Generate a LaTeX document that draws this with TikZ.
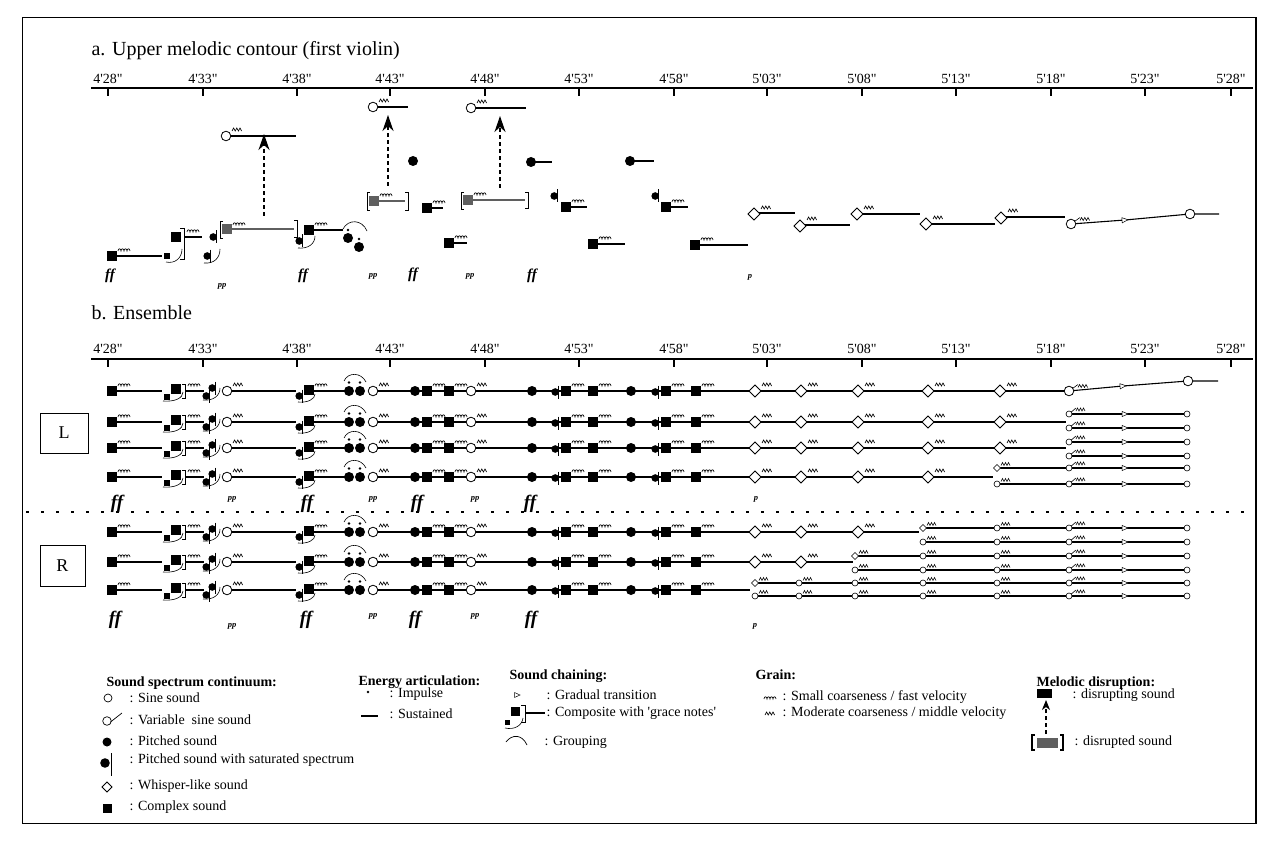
\documentclass[tikz,border=0pt]{standalone}
\usepackage{fontspec}
\setmainfont{Liberation Serif}
\usetikzlibrary{arrows.meta}
\newcommand\tq{\textquotesingle}
\newcommand\tqq{\textquotedbl}
\definecolor{dgray}{RGB}{95,95,95}
\tikzset{
  ln/.style={line width=1.1pt},
  thinl/.style={line width=0.6pt},
  brk/.style={line width=0.8pt},
  disr/.style={dash pattern=on 4pt off 3pt, line width=1.3pt, -{Stealth[length=16pt,width=11pt,inset=5pt]}},
  axl/.style={font=\fontsize{14}{14}\selectfont},
  ttl/.style={font=\fontsize{20}{20}\selectfont, anchor=west},
  dyn/.style={font=\fontsize{15}{15}\selectfont\bfseries\itshape},
  dynb/.style={font=\fontsize{19}{19}\selectfont\bfseries\itshape},
  dynp/.style={font=\fontsize{8.5}{8.5}\selectfont\bfseries\itshape},
  lgh/.style={font=\fontsize{14}{14}\selectfont\bfseries, anchor=west},
  lgt/.style={font=\fontsize{14}{14}\selectfont, anchor=west},
  pics/sq/.style={code={\fill (-4.7,-4.7) rectangle (4.7,4.7);}},
  pics/sqg/.style={code={\fill[dgray] (-5,-5) rectangle (5,5);}},
  pics/ssq/.style={code={\fill (-2.6,-2.6) rectangle (2.6,2.6);}},
  pics/pc/.style={code={\fill (0,0) circle[radius=5];}},
  pics/sc/.style={code={\draw[line width=0.8pt,fill=white] (0,0) circle[radius=4.8];}},
  pics/ssc/.style={code={\draw[line width=0.6pt,fill=white] (0,0) circle[radius=3];}},
  pics/dm/.style={code={\draw[line width=0.9pt,fill=white] (-6,0)--(0,-6)--(6,0)--(0,6)--cycle;}},
  pics/sat/.style={code={\fill (-1.8,0) circle[radius=3.8]; \draw[line width=1pt] (1.8,-6.5)--(1.8,6.5);}},
  pics/gs/.style={code={\draw[line width=0.65pt] (0,0) ..controls (0,-3) and (3,-3).. (3,0) ..controls (3,-3) and (6,-3).. (6,0) ..controls (6,-3) and (9,-3).. (9,0) ..controls (9,-3) and (12,-3).. (12,0);}},
  pics/gm/.style={code={\draw[line width=0.65pt] (0,0)--(1.6,-3)--(3.2,0)--(4.8,-3)--(6.4,0)--(8,-3)--(9.6,0);}},
  pics/tri/.style={code={\draw[line width=0.5pt,fill=white] (-3,-2.6)--(3,0)--(-3,2.6)--cycle;}},
  pics/vgm/.style={code={\draw[line width=0.6pt] (3.5,-2.5)--(9,-6.5); \draw[line width=0.6pt] (9,-3.5)--(10.6,-6.5)--(12.2,-3.5)--(13.8,-6.5)--(15.4,-3.5)--(17,-6.5)--(18.6,-3.5);}},
  pics/svgm/.style={code={\draw[line width=0.6pt] (2.3,-2)--(7,-6); \draw[line width=0.6pt] (7,-3)--(8.5,-6)--(10,-3)--(11.5,-6)--(13,-3)--(14.5,-6)--(16,-3);}},
  pics/sg/.style={code={\draw[line width=0.6pt,fill=white] (0,0) circle[radius=3]; \draw[line width=0.6pt] (4,-2.5)--(5.5,-5.5)--(7,-2.5)--(8.5,-5.5)--(10,-2.5)--(11.5,-5.5)--(13,-2.5);}},
  pics/dg/.style={code={\draw[line width=0.6pt,fill=white] (-3.5,0)--(0,-3.5)--(3.5,0)--(0,3.5)--cycle; \draw[line width=0.6pt] (4,-2.5)--(5.5,-5.5)--(7,-2.5)--(8.5,-5.5)--(10,-2.5)--(11.5,-5.5)--(13,-2.5);}},
}
\newcommand\EnsHead[1]{%
 \draw[ln] (112,0)--(162,0);
 \draw[ln] (185.5,0)--(204,0);
 \draw[ln] (227,0)--(296,0);
 \draw[ln] (309,0)--(349,0);
 \draw[ln] (373,0)--(#1,0);
 \pic at (112,0){sq}; \pic at (118,-5){gs};
 \pic at (167,6){ssq}; \pic at (176,-2){sq};
 \draw[brk] (182,-7)--(185.5,-7)--(185.5,7)--(182,7);
 \pic at (188,-5){gs};
 \draw[thinl] (163,10) .. controls (175,11) and (183,7) .. (183,1);
 \pic at (208,5){sat}; \pic at (214,-3){sat};
 \draw[thinl] (203,9) .. controls (213,10) and (220,5) .. (220,-3);
 \pic at (227,0){sc}; \pic at (233,-5){gm};
 \pic at (301,5){sat};
 \pic at (309,-1){sq}; \pic at (315,-5){gs};
 \draw[thinl] (298,11) .. controls (308,12) and (315,8) .. (315,3);
 \pic at (349,0){pc}; \pic at (360,0){pc};
 \fill (349,-8.5) circle[radius=1.4]; \fill (360,-8.5) circle[radius=1.4];
 \draw[thinl] (344,-10) .. controls (348,-19) and (361,-19) .. (366,-9);
 \pic at (373,0){sc}; \pic at (379,-5){gm};
 \pic at (415,0){pc}; \pic at (427,0){sq}; \pic at (433,-5){gs};
 \pic at (449,0){sq}; \pic at (455,-5){gs};
 \pic at (471,0){sc}; \pic at (477,-5){gm};
 \pic at (532,0){pc}; \pic at (557,1){sat}; \pic at (566,0){sq}; \pic at (572,-5){gs};
 \pic at (593,0){sq}; \pic at (599,-5){gs};
 \pic at (631,0){pc}; \pic at (657,1){sat}; \pic at (666,0){sq}; \pic at (672,-5){gs};
 \pic at (696,0){sq}; \pic at (702,-5){gs};
}
\newcommand\Dia[1]{\pic at (#1,0){dm}; \pic at (#1+7,-5){gm};}
\newcommand\SubTail[1]{\draw[ln] (1069,#1)--(1187,#1); \pic at (1069,#1){ssc}; \pic at (1069,#1){svgm}; \pic at (1125,#1){tri}; \pic at (1187,#1){ssc};}
\begin{document}
\begin{tikzpicture}[x=1pt,y=-1pt]
\useasboundingbox (0,0) rectangle (1269,845);
\draw[line width=1pt] (22,18) rectangle (1256,823);
\draw[line width=1.6pt] (1256,18)--(1256,823);
% ---------- section a ----------
\node[ttl] (ta) at (88,51) {a. Upper melodic contour (first violin)};
\draw[line width=1.3pt] (91,88)--(1253,88);
\foreach \x/\lab [count=\i] in {108/4\tq28\tqq,203/4\tq33\tqq,297/4\tq38\tqq,390/4\tq43\tqq,485/4\tq48\tqq,579/4\tq53\tqq,674/4\tq58\tqq,767/5\tq03\tqq,862/5\tq08\tqq,956/5\tq13\tqq,1051/5\tq18\tqq,1145/5\tq23\tqq,1231/5\tq28\tqq}{
  \draw[line width=1.2pt] (\x,88)--(\x,96);
  \node[axl] (ax\i) at (\x,79) {\lab};
}
\draw[ln] (112,256)--(162,256); \pic at (112,256){sq}; \pic at (118,251){gs};
\pic at (167,256){ssq}; \pic at (176,237){sq};
\draw[brk] (180,228)--(184,228)--(184,259)--(180,259);
\draw[ln] (184,237)--(202,237); \pic at (187,232){gs};
\draw[thinl] (166,262) .. controls (175,264) and (182,258) .. (182,249);
\pic at (215,237){sat}; \pic at (209,256){sat};
\draw[thinl] (204,263) .. controls (214,264) and (220,258) .. (220,249);
\draw[brk] (223,221)--(220,221)--(220,238)--(223,238);
\draw[line width=1.2pt,dgray] (227,229)--(294,229);
\pic at (227,229){sqg}; \pic at (233,225){gs};
\draw[brk] (294,220)--(297,220)--(297,237)--(294,237);
\coordinate (d1a) at (264,216); \coordinate (d1b) at (264,134);
\draw[disr] (d1a)--(d1b);
\draw[ln] (226,136)--(296,136); \pic at (226,136){sc}; \pic at (232,131){gm};
\pic at (301,241){sat};
\draw[ln] (309,230)--(343,230); \pic at (309,230){sq}; \pic at (315,225){gs};
\draw[thinl] (298,248) .. controls (308,249) and (315,244) .. (315,236);
\pic at (348,238){pc}; \pic at (359,247){pc};
\fill (348,230) circle[radius=1.3]; \fill (359,239) circle[radius=1.3];
\draw[thinl] (343,229) .. controls (348,219) and (362,219) .. (367,231);
\draw[ln] (373,107)--(408,107); \pic at (373,107){sc}; \pic at (379,102){gm};
\coordinate (d2a) at (388,186); \coordinate (d2b) at (388,115);
\draw[disr] (d2a)--(d2b);
\draw[brk] (370,192)--(367,192)--(367,210)--(370,210);
\draw[line width=1.2pt,dgray] (374,201)--(405,201);
\pic at (374,201){sqg}; \pic at (380,196){gs};
\draw[brk] (405,192)--(408,192)--(408,210)--(405,210);
\pic at (413,161){pc};
\draw[ln] (427,208)--(443,208); \pic at (427,208){sq}; \pic at (433,203){gs};
\draw[ln] (449,243)--(467,243); \pic at (449,243){sq}; \pic at (455,238){gs};
\draw[ln] (471,108)--(526,108); \pic at (471,108){sc}; \pic at (477,103){gm};
\coordinate (d3a) at (500,188); \coordinate (d3b) at (500,116);
\draw[disr] (d3a)--(d3b);
\draw[brk] (464,192)--(461,192)--(461,209)--(464,209);
\draw[line width=1.2pt,dgray] (468,200)--(525,200);
\pic at (468,200){sqg}; \pic at (474,195){gs};
\draw[brk] (525,192)--(528,192)--(528,208)--(525,208);
\draw[ln] (531,162)--(552,162); \pic at (531,162){pc};
\pic at (556,196){sat};
\draw[ln] (566,207)--(587,207); \pic at (566,207){sq}; \pic at (572,202){gs};
\draw[ln] (593,244)--(625,244); \pic at (593,244){sq}; \pic at (599,239){gs};
\draw[ln] (630,161)--(654,161); \pic at (630,161){pc};
\pic at (657,196){sat};
\draw[ln] (666,207)--(688,207); \pic at (666,207){sq}; \pic at (672,202){gs};
\draw[ln] (695,245)--(748,245); \pic at (695,245){sq}; \pic at (701,240){gs};
\draw[ln] (754,213)--(795,213); \pic at (754,214){dm}; \pic at (761,209){gm};
\draw[ln] (800,225)--(850,225); \pic at (800,226){dm}; \pic at (807,220){gm};
\draw[ln] (857,214)--(920,214); \pic at (857,214){dm}; \pic at (864,209){gm};
\draw[ln] (926,224)--(995,224); \pic at (926,224){dm}; \pic at (933,219){gm};
\draw[ln] (1001,217)--(1065,217); \pic at (1001,218){dm}; \pic at (1008,212){gm};
\draw[ln] (1071,224)--(1125,220)--(1190,214)--(1219,214);
\pic at (1071,224){sc}; \pic at (1071,224){vgm};
\pic[rotate=5] at (1125,220){tri}; \pic at (1190,214){sc};
\node[dyn] (da1) at (110,276) {ff};
\node[dynp] (da2) at (222,286) {pp};
\node[dyn] (da3) at (303,276) {ff};
\node[dynp] (da4) at (373,276) {pp};
\node[dyn] (da5) at (413,275) {ff};
\node[dynp] (da6) at (470,276) {pp};
\node[dyn] (da7) at (532,276) {ff};
\node[dynp] (da8) at (750,277) {p};
% ---------- section b ----------
\node[ttl] (tb) at (88,313) {b. Ensemble};
\draw[line width=1.3pt] (91,359)--(1253,359);
\foreach \x/\lab [count=\i] in {108/4\tq28\tqq,203/4\tq33\tqq,297/4\tq38\tqq,390/4\tq43\tqq,485/4\tq48\tqq,579/4\tq53\tqq,674/4\tq58\tqq,767/5\tq03\tqq,862/5\tq08\tqq,956/5\tq13\tqq,1051/5\tq18\tqq,1145/5\tq23\tqq,1231/5\tq28\tqq}{
  \draw[line width=1.2pt] (\x,359)--(\x,367);
  \node[axl] (bx\i) at (\x,349) {\lab};
}
\draw[line width=0.9pt] (40,413) rectangle (88,453);
\node[font=\fontsize{18}{18}\selectfont] (L) at (64,433) {L};
\draw[line width=0.9pt] (40,545) rectangle (85,586);
\node[font=\fontsize{18}{18}\selectfont] (R) at (62.5,565.5) {R};
% L1
\begin{scope}[shift={(0,391)}]
 \EnsHead{1065}
 \Dia{755}\Dia{801}\Dia{858}\Dia{928}\Dia{1000}
 \draw[ln] (1069,0)--(1123,-5)--(1188,-10)--(1218,-10);
 \pic at (1069,0){sc}; \pic at (1069,0){vgm};
 \pic[rotate=5] at (1123,-5){tri}; \pic at (1188,-10){sc};
\end{scope}
% L2
\begin{scope}[shift={(0,422)}]
 \EnsHead{1066}
 \Dia{755}\Dia{801}\Dia{858}\Dia{928}\Dia{1000}
 \SubTail{-8}\SubTail{6}
\end{scope}
% L3
\begin{scope}[shift={(0,448)}]
 \EnsHead{1066}
 \Dia{755}\Dia{801}\Dia{858}\Dia{928}\Dia{1000}
 \SubTail{-6}\SubTail{8}
\end{scope}
% L4
\begin{scope}[shift={(0,477)}]
 \EnsHead{993}
 \Dia{755}\Dia{801}\Dia{858}\Dia{928}
 \draw[ln] (997,-9)--(1069,-9); \draw[ln] (997,7)--(1069,7);
 \pic at (997,-9){dg}; \pic at (997,7){sg};
 \SubTail{-9}\SubTail{7}
\end{scope}
\node[dynb] (dl1) at (117,504) {ff};
\node[dynp] (dl2) at (232,499) {pp};
\node[dynb] (dl3) at (307,504) {ff};
\node[dynp] (dl4) at (373,499) {pp};
\node[dynb] (dl5) at (417,504) {ff};
\node[dynp] (dl6) at (475,499) {pp};
\node[dynb] (dl7) at (530,504) {ff};
\node[dynp] (dl8) at (756,499) {p};
\draw[line width=1.3pt, dash pattern=on 2.5pt off 12.5pt] (26,512)--(1254,512);
% R1
\begin{scope}[shift={(0,532)}]
 \EnsHead{919}
 \Dia{755}\Dia{801}\Dia{858}
 \draw[ln] (923,-4)--(1069,-4); \draw[ln] (923,10)--(1069,10);
 \pic at (923,-4){dg}; \pic at (923,10){sg};
 \pic at (997,-4){sg}; \pic at (997,10){sg};
 \SubTail{-4}\SubTail{10}
\end{scope}
% R2
\begin{scope}[shift={(0,562)}]
 \EnsHead{853}
 \Dia{755}\Dia{801}
 \draw[ln] (855,-6)--(1069,-6); \draw[ln] (855,8)--(1069,8);
 \pic at (855,-6){dg}; \pic at (855,8){sg};
 \pic at (923,-6){sg}; \pic at (923,8){sg};
 \pic at (997,-6){sg}; \pic at (997,8){sg};
 \SubTail{-6}\SubTail{8}
\end{scope}
% R3
\begin{scope}[shift={(0,590)}]
 \EnsHead{750}
 \draw[ln] (755,-7)--(1069,-7); \draw[ln] (755,6)--(1069,6);
 \pic at (755,-7){dg}; \pic at (755,6){sg};
 \pic at (799,-7){sg}; \pic at (799,6){sg};
 \pic at (855,-7){sg}; \pic at (855,6){sg};
 \pic at (923,-7){sg}; \pic at (923,6){sg};
 \pic at (997,-7){sg}; \pic at (997,6){sg};
 \SubTail{-7}\SubTail{6}
\end{scope}
\node[dynb] (dr1) at (115,620) {ff};
\node[dynp] (dr2) at (232,626) {pp};
\node[dynb] (dr3) at (306,620) {ff};
\node[dynp] (dr4) at (373,616) {pp};
\node[dynb] (dr5) at (415,620) {ff};
\node[dynp] (dr6) at (475,616) {pp};
\node[dynb] (dr7) at (531,620) {ff};
\node[dynp] (dr8) at (755,626) {p};
% ---------- legend ----------
\node[lgh] (h1) at (103,683) {Sound spectrum continuum:};
\draw[line width=0.7pt] (108,698) circle[radius=4];
\node[lgt] (l1) at (126,698) {: Sine sound};
\draw[line width=0.7pt] (107,721) circle[radius=4.3];
\draw[line width=0.7pt] (110.5,722) -- (122,713);
\node[lgt] (l2) at (126,720) {: Variable\ \ sine sound};
\fill (107,742) circle[radius=4.5];
\node[lgt] (l3) at (126,741) {: Pitched sound};
\fill (105,763) circle[radius=4.8]; \draw[line width=1pt] (111,753)--(111,776);
\node[lgt] (l4) at (126,760) {: Pitched sound with saturated spectrum};
\draw[line width=0.8pt] (102,787)--(107,782)--(112,787)--(107,792)--cycle;
\node[lgt] (l5) at (126,786) {: Whisper-like sound};
\fill (102.5,803.5) rectangle (111.5,812.5);
\node[lgt] (l6) at (126,807) {: Complex sound};
\node[lgh] (h2) at (355,682) {Energy articulation:};
\fill (368,692) circle[radius=1.3];
\node[lgt] (l7) at (386,694) {: Impulse};
\draw[line width=1.1pt] (361,716)--(378,716);
\node[lgt] (l8) at (386,714) {: Sustained};
\node[lgh] (h3) at (506,676) {Sound chaining:};
\draw[line width=0.5pt,fill=white] (514.5,692.5)--(520,695)--(514.5,697.5)--cycle;
\node[lgt] (l9) at (543,695) {: Gradual transition};
\fill (510.5,706.5) rectangle (519.5,715.5); \fill (505,719.5) rectangle (510,724.5);
\draw[brk] (521,705)--(525,705)--(525,722)--(521,722);
\draw[ln] (525,713)--(545,713);
\draw[thinl] (505,728) .. controls (514,730) and (522,726) .. (523,718);
\node[lgt] (l10) at (543,713) {: Composite with \tq grace notes\tq};
\draw[line width=0.7pt] (506,742) .. controls (512,734) and (522,734) .. (527,745);
\node[lgt] (l11) at (541,742) {: Grouping};
\node[lgh] (h4) at (752,675) {Grain:};
\pic at (764,699){gs};
\pic at (765,715){gm};
\node[lgt] (l12) at (779,697) {: Small coarseness / fast velocity};
\node[lgt] (l13) at (779,713) {: Moderate coarseness / middle velocity};
\node[lgh] (h5) at (1033,683) {Melodic disruption:};
\fill (1037,689) rectangle (1052,698);
\node[lgt] (l14) at (1069,695) {: disrupting sound};
\draw[line width=1.4pt] (1035,735)--(1032,735)--(1032,750)--(1035,750);
\draw[line width=1.4pt] (1060,735)--(1063,735)--(1063,750)--(1060,750);
\fill[dgray] (1037,738) rectangle (1058,748);
\coordinate (m1) at (1046,734); \coordinate (m2) at (1046,700);
\draw[disr, line width=1.1pt, -{Stealth[length=10pt,width=8pt,inset=3pt]}] (m1)--(m2);
\node[lgt] (l15) at (1071,742) {: disrupted sound};
\end{tikzpicture}
\end{document}
